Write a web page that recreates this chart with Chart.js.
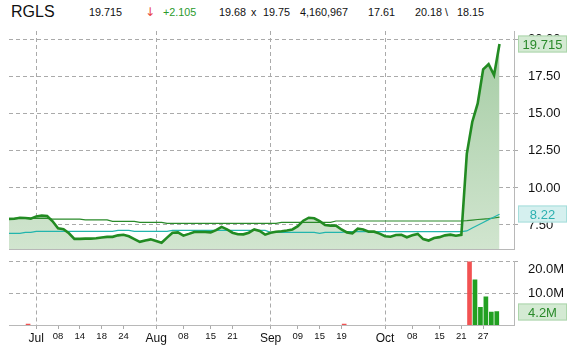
<!DOCTYPE html>
<html>
<head>
<meta charset="utf-8">
<script src="https://cdn.jsdelivr.net/npm/chart.js@4.4.0/dist/chart.umd.min.js"></script>
<style>
	body { margin: 0; background: #fff; }
	#wrap { position: relative; width: 568px; height: 349px; font-family: "Liberation Sans", Arial, sans-serif; color: #111; }
	#wrap span { position: absolute; white-space: nowrap; font-size: 10.8px; line-height: 14px; top: 5px; }
	canvas { position: absolute; left: 0; }
</style>
</head>
<body>
<div id="wrap">
	<span style="left:11px;top:3px;font-size:16px;line-height:18px">RGLS</span>
	<span style="left:89px">19.715</span>
	<span style="left:145px;top:4px;font-family:'DejaVu Sans';font-size:12px;line-height:16px;color:#e84545">&#8595;</span>
	<span style="left:163px;color:#2a9a2a">+2.105</span>
	<span style="left:219px">19.68</span>
	<span style="left:251px">x</span>
	<span style="left:263px">19.75</span>
	<span style="left:300px">4,160,967</span>
	<span style="left:368px">17.61</span>
	<span style="left:415px">20.18</span>
	<span style="left:445px">\</span>
	<span style="left:457px">18.15</span>
	<canvas id="price" width="568" height="252" style="top:0"></canvas>
	<canvas id="vol" width="568" height="97" style="top:252px"></canvas>
</div>
<script>
var dates = ['06/24','06/25','06/26','06/27','06/30',
	'07/01','07/02','07/03','07/07','07/08','07/09','07/10','07/11','07/14','07/15','07/16','07/17','07/18','07/21','07/22','07/23','07/24','07/25','07/28','07/29','07/30','07/31',
	'08/01','08/04','08/05','08/06','08/07','08/08','08/11','08/12','08/13','08/14','08/15','08/18','08/19','08/20','08/21','08/22','08/25','08/26','08/27','08/28','08/29',
	'09/02','09/03','09/04','09/05','09/08','09/09','09/10','09/11','09/12','09/15','09/16','09/17','09/18','09/19','09/22','09/23','09/24','09/25','09/26','09/29','09/30',
	'10/01','10/02','10/03','10/06','10/07','10/08','10/09','10/10','10/13','10/14','10/15','10/16','10/17','10/20','10/21','10/22','10/23','10/24','10/27','10/28','10/29','10/30'];

var closes = [7.90, 7.92, 7.99, 7.97, 7.93,
	8.08, 8.13, 8.10, 7.75, 7.28, 7.21, 6.94, 6.56, 6.56, 6.58, 6.58, 6.60, 6.66, 6.70, 6.70, 6.80, 6.84, 6.74, 6.55, 6.36, 6.45, 6.53,
	6.42, 6.30, 6.65, 6.98, 7.00, 6.78, 6.90, 7.03, 7.03, 7.03, 7.00, 7.15, 7.37, 7.20, 6.98, 6.88, 6.87, 6.98, 7.20, 7.10, 6.85,
	6.98, 7.04, 7.08, 7.13, 7.20, 7.42, 7.79, 7.99, 7.95, 7.76, 7.50, 7.46, 7.46, 7.20, 7.00, 6.94, 7.25, 7.20, 7.05, 7.05, 6.92,
	6.74, 6.71, 6.83, 6.84, 6.67, 6.80, 6.90, 6.55, 6.45, 6.62, 6.68, 6.80, 6.85, 6.78, 6.84, 12.3, 14.45, 15.7, 18.0, 18.35, 17.61, 19.715];

// 50 day (cyan) and 200 day (thin green) averages
var ma50 = [6.94, 6.94, 6.94, 7.00, 7.00,
	7.07, 7.07, 7.07, 7.07, 7.07, 7.07, 7.07, 7.07, 7.07, 7.07, 7.07, 7.07, 7.07, 7.07, 7.07, 7.14, 7.14, 7.14, 7.07, 7.07, 7.07, 7.07,
	7.07, 7.07, 7.07, 7.14, 7.14, 7.14, 7.14, 7.14, 7.14, 7.14, 7.14, 7.14, 7.14, 7.14, 7.14, 7.14, 7.14, 7.14, 7.14, 7.14, 7.14,
	7.00, 7.00, 7.00, 7.00, 7.00, 7.00, 7.00, 7.00, 7.00, 6.94, 7.00, 7.00, 7.00, 7.00, 7.05, 7.05, 7.05, 7.05, 7.05, 7.05, 7.05,
	7.05, 7.05, 7.05, 7.05, 7.05, 7.05, 7.05, 7.05, 7.05, 7.05, 7.05, 7.05, 7.05, 7.05, 7.05, 7.10, 7.30, 7.48, 7.67, 7.86, 8.04, 8.22];

var ma200 = [7.95, 7.95, 7.95, 7.95, 7.95,
	7.95, 7.95, 7.95, 7.90, 7.90, 7.90, 7.90, 7.90, 7.90, 7.84, 7.84, 7.84, 7.84, 7.84, 7.75, 7.75, 7.75, 7.75, 7.75, 7.68, 7.68, 7.68,
	7.68, 7.68, 7.61, 7.61, 7.61, 7.61, 7.61, 7.61, 7.61, 7.61, 7.61, 7.61, 7.61, 7.61, 7.61, 7.61, 7.61, 7.61, 7.61, 7.61, 7.61,
	7.61, 7.61, 7.68, 7.68, 7.68, 7.68, 7.68, 7.68, 7.68, 7.68, 7.68, 7.68, 7.77, 7.77, 7.77, 7.77, 7.77, 7.77, 7.77, 7.77, 7.77,
	7.77, 7.77, 7.77, 7.77, 7.77, 7.77, 7.77, 7.77, 7.77, 7.77, 7.77, 7.77, 7.77, 7.77, 7.77, 7.79, 7.83, 7.87, 7.90, 7.93, 7.97, 8.03];

var volDates = ['06/30', '09/22', '10/23', '10/24', '10/27', '10/28', '10/29', '10/30'];
var volValues = [0.3e6, 0.3e6, 20.4e6, 14.2e6, 5.6e6, 8.9e6, 4.1e6, 4.2e6];
var downDays = ['06/30', '09/22', '10/23'];

var monthTicks = ['07/01', '08/01', '09/02', '10/01'];
var dayTicks = ['07/08','07/14','07/18','07/24','08/08','08/15','08/21','09/09','09/15','09/19','10/08','10/15','10/21','10/27'];
var monthNames = {'07': 'Jul', '08': 'Aug', '09': 'Sep', '10': 'Oct'};
var priceTicks = [7.5, 10, 12.5, 15, 17.5, 20];
var volTicks = [10e6, 20e6];

var fontFamily = '"Liberation Sans", Arial, sans-serif';
var gridColor = '#aaaaaa';
var axisColor = '#b8b8b8';
var xMax = 92.66;

function idx(d) {
	return dates.indexOf(d);
}

function toPoints(arr) {
	return arr.map(function(v, i) { return {x: i, y: v}; });
}

function isMonth(v) {
	return monthTicks.some(function(d) { return idx(d) === v; });
}

// axes must not push the plot area in, it is placed by the layout padding
function noPad(s) {
	s.paddingTop = 0;
	s.paddingBottom = 0;
	s.paddingLeft = 0;
	s.paddingRight = 0;
}

// value tags on the right edge
function valueBoxes(items) {
	return {
		id: 'valueBoxes',
		afterDraw: function(chart) {
			var ctx = chart.ctx;
			var x0 = chart.chartArea.right + 4;
			var w = 49, h = 17;
			items.forEach(function(b) {
				var y = Math.round(chart.scales.y.getPixelForValue(b.value));
				ctx.save();
				ctx.fillStyle = b.fill;
				ctx.fillRect(x0, y - h / 2, w, h);
				ctx.strokeStyle = b.stroke;
				ctx.lineWidth = 1;
				ctx.strokeRect(x0 + 0.5, y - h / 2 + 0.5, w - 1, h - 1);
				ctx.fillStyle = b.color;
				ctx.font = '13px ' + fontFamily;
				ctx.textAlign = 'center';
				ctx.textBaseline = 'middle';
				ctx.fillText(b.text, x0 + w / 2, y + 1);
				ctx.restore();
			});
		}
	};
}

var lastClose = closes[closes.length - 1];
var lastMa50 = ma50[ma50.length - 1];
var lastVol = volValues[volValues.length - 1];

new Chart(document.getElementById('price'), {
	type: 'line',
	data: {
		datasets: [
			{
				data: toPoints(closes),
				borderColor: '#228b22',
				borderWidth: 2.6,
				pointRadius: 0,
				tension: 0,
				fill: 'start',
				backgroundColor: function(c) {
					var ca = c.chart.chartArea;
					if (!ca) return 'rgba(0,0,0,0)';
					var g = c.chart.ctx.createLinearGradient(0, ca.top, 0, ca.bottom);
					g.addColorStop(0, '#a3cba2');
					g.addColorStop(1, '#d1e5cf');
					return g;
				}
			},
			{ data: toPoints(ma50), borderColor: '#22b5ad', borderWidth: 1.2, pointRadius: 0, fill: false },
			{ data: toPoints(ma200), borderColor: '#2a8a2a', borderWidth: 1.2, pointRadius: 0, fill: false }
		]
	},
	options: {
		responsive: false,
		animation: false,
		layout: { padding: { left: 9, top: 31, right: 0, bottom: 3 } },
		plugins: { legend: { display: false }, tooltip: { enabled: false }, filler: { drawTime: 'beforeDatasetsDraw' } },
		scales: {
			x: {
				type: 'linear', min: 0, max: xMax, offset: false,
				ticks: { display: false },
				grid: { color: gridColor, drawTicks: false, offset: false },
				border: { display: true, color: axisColor, dash: [4, 3] },
				afterBuildTicks: function(s) {
					s.ticks = monthTicks.map(function(d) { return {value: idx(d)}; });
				},
				afterFit: function(s) { s.height = 0; noPad(s); }
			},
			y: {
				position: 'right', min: 5.88, max: 20.59,
				ticks: {
					padding: 10, color: '#111', font: { family: fontFamily, size: 13 },
					callback: function(v) { return v.toFixed(2); }
				},
				grid: { color: gridColor, tickLength: 4 },
				border: { color: axisColor, dash: [4, 3] },
				afterBuildTicks: function(s) {
					s.ticks = priceTicks.map(function(v) { return {value: v}; });
				},
				afterFit: function(s) { s.width = 54; noPad(s); }
			}
		}
	},
	plugins: [valueBoxes([
		{ value: lastClose, text: String(lastClose), fill: '#d4ead3', stroke: '#acd6ab', color: '#2a8a2a' },
		{ value: lastMa50, text: lastMa50.toFixed(2), fill: '#d5f0ef', stroke: '#a6dedb', color: '#2cb0b0' }
	])]
});

var allTicks = monthTicks.concat(dayTicks).map(idx).sort(function(a, b) { return a - b; });

new Chart(document.getElementById('vol'), {
	type: 'bar',
	data: {
		datasets: [{
			data: volDates.map(function(d, i) { return {x: idx(d), y: volValues[i]}; }),
			backgroundColor: volDates.map(function(d) { return downDays.indexOf(d) >= 0 ? '#f25252' : '#22a022'; }),
			barThickness: 4,
			xAxisID: 'xb',
			yAxisID: 'y'
		}]
	},
	options: {
		responsive: false,
		animation: false,
		layout: { padding: { left: 9, top: 9.5, right: 0, bottom: 0 } },
		plugins: { legend: { display: false }, tooltip: { enabled: false } },
		scales: {
			x: {
				type: 'linear', min: 0, max: xMax, offset: false,
				ticks: {
					autoSkip: false, maxRotation: 0, padding: 2, color: '#111',
					font: function(c) { return { family: fontFamily, size: isMonth(c.tick && c.tick.value) ? 12 : 9.5 }; },
					callback: function(v) {
						var d = dates[v];
						return isMonth(v) ? monthNames[d.slice(0, 2)] : d.slice(3);
					}
				},
				grid: {
					offset: false, tickLength: 4, tickColor: gridColor,
					color: function(c) { return c.tick && isMonth(c.tick.value) ? gridColor : 'rgba(0,0,0,0)'; }
				},
				border: { display: true, color: axisColor, dash: [4, 3] },
				afterBuildTicks: function(s) {
					s.ticks = allTicks.map(function(v) { return {value: v}; });
				},
				afterFit: function(s) { s.height = 24; noPad(s); }
			},
			// bars sit half a day to the left of the date ticks
			xb: { type: 'linear', display: false, min: 0.5, max: xMax + 0.5, offset: false, grid: { offset: false } },
			y: {
				position: 'right', min: 0, max: 20e6,
				ticks: {
					padding: 10, color: '#111', font: { family: fontFamily, size: 13 },
					callback: function(v) {
						var t = (v / 1e6).toFixed(1) + 'M';
						return v === 20e6 ? ['', t] : t;
					}
				},
				grid: { color: gridColor, tickLength: 4 },
				border: { color: axisColor, dash: [4, 3] },
				afterBuildTicks: function(s) {
					s.ticks = volTicks.map(function(v) { return {value: v}; });
				},
				afterFit: function(s) { s.width = 54; noPad(s); }
			}
		}
	},
	plugins: [valueBoxes([
		{ value: lastVol, text: (lastVol / 1e6).toFixed(1) + 'M', fill: '#d4ead3', stroke: '#acd6ab', color: '#2a8a2a' }
	])]
});
</script>
</body>
</html>
